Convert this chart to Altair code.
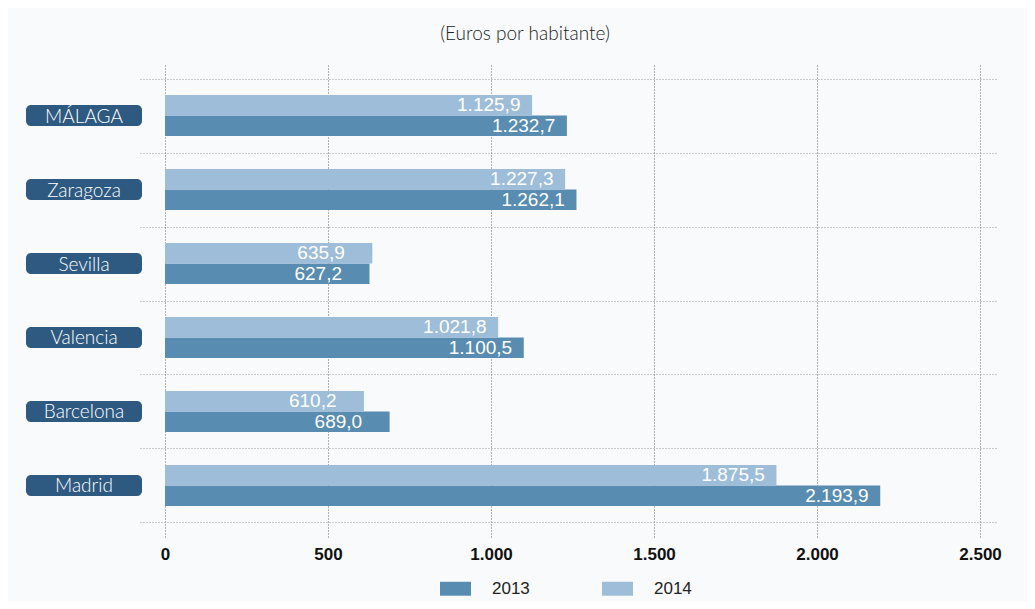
import altair as alt
import pandas as pd

cities = ["MÁLAGA", "Zaragoza", "Sevilla", "Valencia", "Barcelona", "Madrid"]
years = ["2013", "2014"]
v2013 = [1232.7, 1262.1, 627.2, 1100.5, 689.0, 2193.9]
v2014 = [1125.9, 1227.3, 635.9, 1021.8, 610.2, 1875.5]
x_ticks = [0, 500, 1000, 1500, 2000, 2500]

rows = []
for c, a, b in zip(cities, v2013, v2014):
    rows.append({"city": c, "year": "2013", "value": a})
    rows.append({"city": c, "year": "2014", "value": b})
df = pd.DataFrame(rows)
cdf = pd.DataFrame({"city": cities})

C13 = "#588cb0"
C14 = "#9dbdd9"
BOX = "#2e5a81"

yenc = alt.Y(
    "city:N",
    sort=cities,
    scale=alt.Scale(paddingInner=0, paddingOuter=0.196),
    axis=alt.Axis(labels=False, ticks=False, domain=False, grid=True,
                  tickBand="extent", gridColor="#9a9a9a", gridDash=[1, 2],
                  gridWidth=1, title=None),
)
yoff = alt.YOffset("year:N", sort=["2014", "2013"],
                   scale=alt.Scale(paddingOuter=0.805, paddingInner=0))

xenc = alt.X(
    "value:Q",
    scale=alt.Scale(domain=[-76.7, 2549], nice=False, zero=False),
    axis=alt.Axis(values=x_ticks, title=None, ticks=False, tickSize=0, domain=False,
                  grid=True, gridColor="#666666", gridDash=[1, 2], gridWidth=1,
                  labelExpr="replace(format(datum.value, ','), ',', '.')",
                  labelFont="Liberation Sans, Arial, sans-serif", labelFontSize=17,
                  labelFontWeight="bold", labelColor="#111111", labelPadding=9),
)

path = "M-1,-0.45H1V0.45H-1Z"

bars = alt.Chart(df).mark_bar().encode(
    y=yenc,
    yOffset=yoff,
    x=xenc,
    color=alt.Color(
        "year:N",
        scale=alt.Scale(domain=years, range=[C13, C14]),
        legend=alt.Legend(orient="none", legendX=300, legendY=509, direction="horizontal",
                          title=None, symbolType=path, symbolSize=961,
                          symbolStrokeWidth=0, symbolOpacity=1,
                          labelFont="Liberation Sans, Arial, sans-serif", labelFontSize=17,
                          labelColor="#222222", labelOffset=21, columnPadding=72,
                          padding=0),
    ),
)

labels = alt.Chart(df).transform_calculate(
    lab="replace(replace(replace(format(datum.value, ',.1f'), ',', 'T'), '.', ','), 'T', '.')"
).mark_text(
    align="left", baseline="middle", dx=-75, color="white",
    font="Liberation Sans, Arial, sans-serif", fontSize=19,
).encode(
    y=alt.Y("city:N", sort=cities),
    yOffset=alt.YOffset("year:N", sort=["2014", "2013"]),
    x=alt.X("value:Q"),
    text="lab:N",
)

boxes = alt.Chart(cdf).mark_bar(
    orient="horizontal", height=21, cornerRadius=5, color=BOX
).encode(
    y=alt.Y("city:N", sort=cities),
    x=alt.value(-114),
    x2=alt.value(2),
)

boxtext = alt.Chart(cdf).mark_text(
    align="center", baseline="middle", dy=1, color="white",
    font="Lato, Noto Sans, sans-serif", fontSize=19, fontWeight=300,
).encode(
    y=alt.Y("city:N", sort=cities),
    x=alt.value(-56),
    text="city:N",
)

chart = alt.layer(bars, labels, boxes, boxtext).properties(
    width=856,
    height=473,
    title=alt.TitleParams("(Euros por habitante)", font="Lato, Noto Sans, sans-serif",
                          fontSize=19, fontWeight=300, color="#222222",
                          anchor="middle", dx=-43, offset=20),
    autosize=alt.AutoSizeParams(type="none"),
    padding={"left": 132, "right": 31, "top": 56, "bottom": 64},
).configure(background="#f8fafc").configure_view(stroke=None)

chart.save("out.html", embed_options={"renderer": "svg", "actions": False})
